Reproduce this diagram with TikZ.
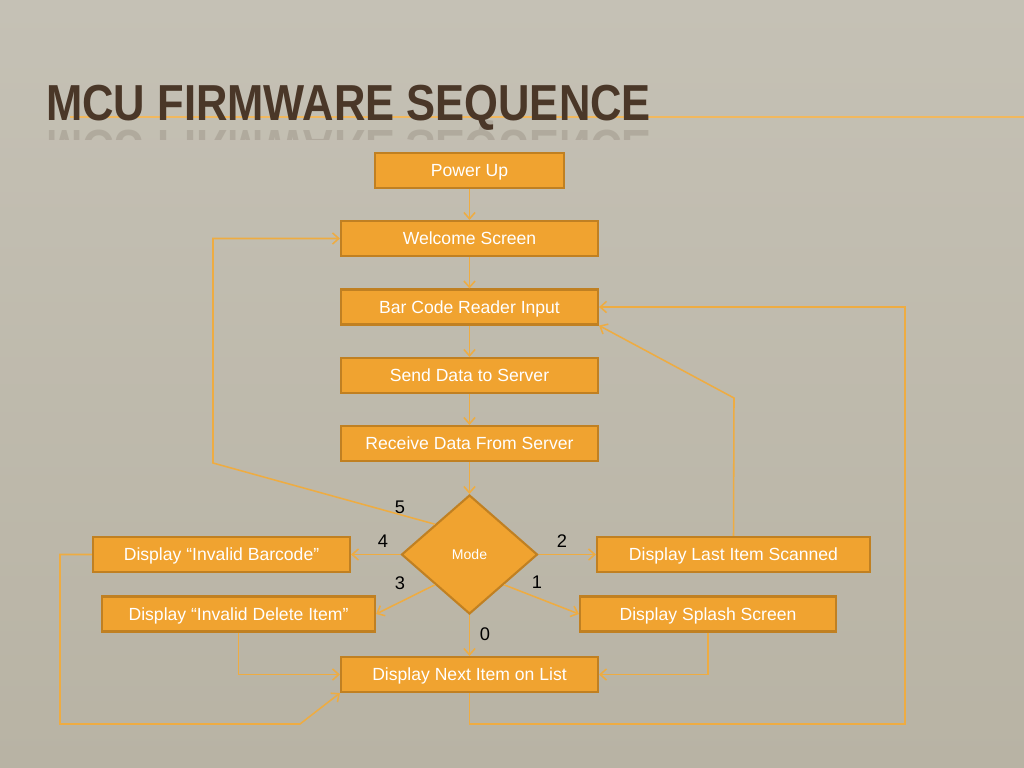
\documentclass[tikz,border=0pt]{standalone}
\usepackage{fontspec}
\setmainfont{Liberation Sans}
\newfontfamily\titlefont[FakeStretch=0.86]{Liberation Sans}
\usetikzlibrary{shapes.geometric,arrows.meta}
\definecolor{bgtop}{RGB}{197,193,181}
\definecolor{bgbot}{RGB}{184,179,164}
\definecolor{boxfill}{RGB}{240,163,48}
\definecolor{boxline}{RGB}{192,128,34}
\definecolor{conn}{RGB}{238,172,66}
\definecolor{titlec}{RGB}{74,55,40}
\tikzset{
  stepbox/.style={draw=boxline, fill=boxfill, line width=1.5pt, inner sep=0pt,
    minimum height=35*0.025cm, text height=9pt, text depth=0pt, text=white, font=\fontsize{12.5}{14}\selectfont},
  decision/.style={diamond, draw=boxline, fill=boxfill, line width=1.5pt, inner sep=0pt,
    minimum width=136*0.025cm, minimum height=119*0.025cm, text=white, font=\fontsize{10}{12}\selectfont},
  conn/.style={draw=conn, line width=1.1pt},
  arr/.style={conn, -{Straight Barb[length=4.5pt,width=8pt]}},
  lbl/.style={font=\fontsize{13}{15}\selectfont, text=black, inner sep=0pt}
}
\begin{document}
\begin{tikzpicture}[x=0.025cm,y=-0.025cm]
\useasboundingbox (0,0) rectangle (1024,768);
\shade[top color=bgtop, bottom color=bgbot] (0,0) rectangle (1024,768);
% title rule
\draw[draw=conn!85!white, line width=1pt] (70,117) -- (1024,117);
% title reflection
\begin{scope}
\clip (0,120) rectangle (700,140);
\node[anchor=south west, inner sep=0pt, yscale=-1, transform shape, text=titlec, opacity=0.15,
  font=\titlefont\bfseries\fontsize{36}{40}\selectfont] (titlerefl) at (46,120.5) {MCU FIRMWARE SEQUENCE};
\end{scope}
\node[anchor=base west, inner sep=0pt, text=titlec, font=\titlefont\bfseries\fontsize{36}{40}\selectfont]
  (title) at (46,120.5) {MCU FIRMWARE SEQUENCE};

% nodes
\node[stepbox, minimum width=189*0.025cm] (power) at (469.5,170.5) {Power Up};
\node[stepbox, minimum width=257*0.025cm] (welcome) at (469.5,238.5) {Welcome Screen};
\node[stepbox, minimum width=257*0.025cm] (bar) at (469.5,307) {Bar Code Reader Input};
\node[stepbox, minimum width=257*0.025cm] (send) at (469.5,375.5) {Send Data to Server};
\node[stepbox, minimum width=257*0.025cm] (recv) at (469.5,443.5) {Receive Data From Server};
\node[decision] (mode) at (469.5,554.5) {Mode};
\node[stepbox, minimum width=257*0.025cm] (ib) at (221.5,554.5) {Display “Invalid Barcode”};
\node[stepbox, minimum width=273*0.025cm] (last) at (733.5,554.5) {Display Last Item Scanned};
\node[stepbox, minimum width=273*0.025cm] (idel) at (238.5,614) {Display “Invalid Delete Item”};
\node[stepbox, minimum width=256*0.025cm] (splash) at (708,614) {Display Splash Screen};
\node[stepbox, minimum width=257*0.025cm] (next) at (469.5,674.5) {Display Next Item on List};

% labels
\node[lbl] (l5) at (400,507) {5};
\node[lbl] (l4) at (383,541) {4};
\node[lbl] (l2) at (562,541) {2};
\node[lbl] (l3) at (400,583) {3};
\node[lbl] (l1) at (537,582) {1};
\node[lbl] (l0) at (485,634) {0};

% helper coordinates
\coordinate (c5) at (213,463);
\coordinate (cA) at (60,724);
\coordinate (cB) at (300,724);
\coordinate (cD) at (905,724);
\coordinate (cE) at (734,398);

% connectors
\draw[arr] (power) -- (welcome);
\draw[arr] (welcome) -- (bar);
\draw[arr] (bar) -- (send);
\draw[arr] (send) -- (recv);
\draw[arr] (recv) -- (mode);
\draw[arr] (mode.north west) -- (c5) |- (welcome.west);
\draw[arr] (mode.west) -- (ib.east);
\draw[arr] (mode.east) -- (last.west);
\draw[arr] (mode.south west) -- (idel.east);
\draw[arr] (mode.south east) -- (splash.west);
\draw[arr] (mode.south) -- (next.north);
\draw[arr] (idel.south) |- (next.west);
\draw[arr] (splash.south) |- (next.east);
\draw[arr] (ib.west) -| (cA) -- (cB) -- (next.south west);
\draw[arr] (next.south) |- (cD) |- (bar.east);
\draw[arr] (last.north) -- (cE) -- (bar.south east);
\end{tikzpicture}
\end{document}
